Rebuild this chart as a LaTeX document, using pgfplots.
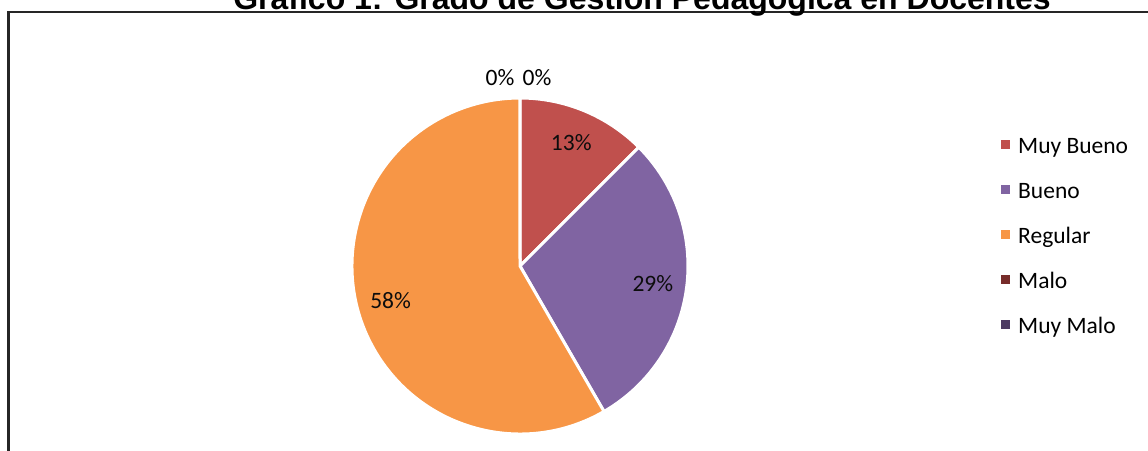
\documentclass[border=0pt]{standalone}
\usepackage{pgfplots}
\usepackage{pgfplotstable}
\pgfplotsset{compat=1.18}
\usepackage{fontspec}
\setmainfont{Carlito}
\newfontfamily\titlefont{Liberation Sans}
\definecolor{cMB}{HTML}{C0504D}
\definecolor{cB}{HTML}{8064A2}
\definecolor{cR}{HTML}{F79646}
\definecolor{cM}{HTML}{772C2A}
\definecolor{cMM}{HTML}{4D3B62}
\pgfkeys{/pgf/number format/assume math mode=true}
\pgfplotstableread[col sep=comma]{
name,value,color
Muy Bueno,3,cMB
Bueno,7,cB
Regular,14,cR
Malo,0,cM
Muy Malo,0,cMM
}\datatable
\begin{document}
\begin{tikzpicture}
\path[use as bounding box,clip] (0,0) rectangle (1148bp,451bp);
\fill[white] (0,0) rectangle (1148bp,451bp);
\begin{axis}[at={(0,0)}, anchor=south west, x=1bp, y=1bp,
  xmin=-520, xmax=628, ymin=-185, ymax=266,
  hide axis, clip=false, scale only axis]
\addplot[draw=none, forget plot] coordinates {(0,0)};
\pgfplotsextra{
  % frame
  \draw[black!85, line width=2bp] (axis cs:-511.5,-200) -- (axis cs:-511.5,254) -- (axis cs:640,254);
  % title
  \node[anchor=base, inner sep=0pt, font=\titlefont\bfseries\fontsize{32bp}{36bp}\selectfont]
     at (axis cs:122,256) {Gráfico 1: Grado de Gestión Pedagógica en Docentes};
  % total
  \def\total{0}
  \pgfplotsforeachungrouped \i in {0,...,4}{%
    \pgfplotstablegetelem{\i}{value}\of\datatable
    \pgfmathsetmacro\total{\total+\pgfplotsretval}%
  }
  \def\start{90}
  \pgfplotsforeachungrouped \i in {0,...,4}{%
    \pgfplotstablegetelem{\i}{value}\of\datatable \let\v\pgfplotsretval
    \pgfplotstablegetelem{\i}{color}\of\datatable \let\c\pgfplotsretval
    \pgfmathsetmacro\sweep{\v/\total*360}%
    \pgfmathsetmacro\stop{\start-\sweep}%
    \pgfmathsetmacro\mid{\start-\sweep/2}%
    \pgfmathsetmacro\pct{100*\v/\total}%
    \pgfmathparse{\v>0}%
    \ifnum\pgfmathresult=1
      \fill[\c, draw=white, line width=3bp, line join=miter]
        (axis cs:0,0) -- (axis cs:{168*cos(\start)},{168*sin(\start)})
        arc[start angle=\start, end angle=\stop, radius=168bp] -- cycle;
      \node[font=\fontsize{23.5bp}{28bp}\selectfont, text=black!95]
        at (axis cs:{134*cos(\mid)},{134*sin(\mid)})
        {\pgfmathprintnumber[fixed,precision=0]{\pct}\%};
    \fi
    \global\let\start\stop
  }
  % zero-value labels
  \pgfplotstablegetelem{3}{value}\of\datatable
  \node[font=\fontsize{23.5bp}{28bp}\selectfont] at (axis cs:-20,188) {\pgfmathprintnumber[fixed,precision=0]{\pgfplotsretval}\%};
  \pgfplotstablegetelem{4}{value}\of\datatable
  \node[font=\fontsize{23.5bp}{28bp}\selectfont] at (axis cs:17,188) {\pgfmathprintnumber[fixed,precision=0]{\pgfplotsretval}\%};
  % legend
  \pgfplotsforeachungrouped \i in {0,...,4}{%
    \pgfplotstablegetelem{\i}{name}\of\datatable \let\n\pgfplotsretval
    \pgfplotstablegetelem{\i}{color}\of\datatable \let\c\pgfplotsretval
    \pgfmathsetmacro\yy{121-45*\i}%
    \fill[\c] (axis cs:481,\yy-4.5) rectangle (axis cs:490,\yy+4.5);
    \node[anchor=base west, inner sep=0pt, font=\fontsize{23.5bp}{28bp}\selectfont]
      at (axis cs:498,\yy-8) {\n};
  }
}
\end{axis}
\end{tikzpicture}
\end{document}
